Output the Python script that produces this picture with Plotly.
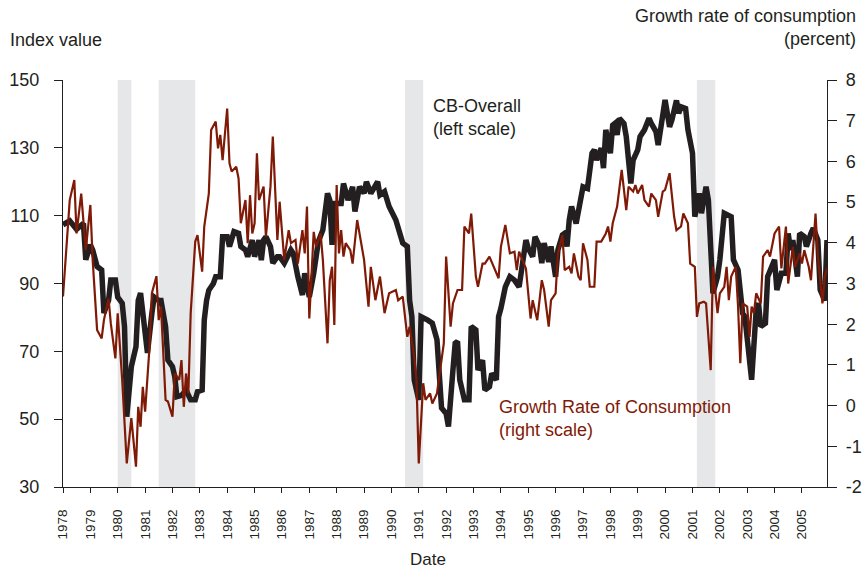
import plotly.graph_objects as go

# CB-Overall consumer confidence index (left scale)
cb_dates = [
    "1978-01", "1978-04", "1978-07", "1978-10", "1978-11", "1979-01", "1979-02", "1979-04",
    "1979-06", "1979-07", "1979-09", "1979-10", "1979-12", "1980-01", "1980-03", "1980-04",
    "1980-05", "1980-07", "1980-09", "1980-10", "1980-11", "1981-01", "1981-02", "1981-04",
    "1981-05", "1981-07", "1981-08", "1981-10", "1981-11", "1982-01", "1982-02", "1982-03",
    "1982-05", "1982-07", "1982-09", "1982-11", "1982-12", "1983-02", "1983-03", "1983-04",
    "1983-05", "1983-07", "1983-08", "1983-10", "1983-11", "1984-01", "1984-02", "1984-04",
    "1984-06", "1984-07", "1984-09", "1984-10", "1984-12", "1985-01", "1985-03", "1985-04",
    "1985-05", "1985-06", "1985-08", "1985-09", "1985-11", "1985-12", "1986-02", "1986-05",
    "1986-06", "1986-08", "1986-10", "1986-11", "1987-01", "1987-03", "1987-05", "1987-07",
    "1987-09", "1987-10", "1987-11", "1987-12", "1988-03", "1988-04", "1988-06", "1988-08",
    "1988-09", "1988-11", "1989-01", "1989-02", "1989-04", "1989-07", "1989-08", "1989-10",
    "1989-12", "1990-03", "1990-04", "1990-06", "1990-08", "1990-09", "1990-10", "1990-11",
    "1991-01", "1991-02", "1991-05", "1991-07", "1991-09", "1991-11", "1992-01", "1992-02",
    "1992-04", "1992-05", "1992-06", "1992-07", "1992-09", "1992-11", "1992-12", "1993-02",
    "1993-03", "1993-05", "1993-06", "1993-08", "1993-09", "1993-11", "1993-12", "1994-01",
    "1994-03", "1994-05", "1994-07", "1994-09", "1994-12", "1995-01", "1995-03", "1995-04",
    "1995-06", "1995-07", "1995-08", "1995-10", "1995-11", "1996-01", "1996-02", "1996-04",
    "1996-05", "1996-06", "1996-07", "1996-08", "1996-10", "1996-12", "1997-01", "1997-03",
    "1997-05", "1997-06", "1997-07", "1997-09", "1997-10", "1997-11", "1998-01", "1998-02",
    "1998-03", "1998-04", "1998-05", "1998-07", "1998-08", "1998-10", "1998-11", "1999-01",
    "1999-02", "1999-04", "1999-06", "1999-07", "1999-09", "1999-10", "1999-12", "2000-01",
    "2000-03", "2000-04", "2000-06", "2000-07", "2000-08", "2000-10", "2000-11", "2001-01",
    "2001-02", "2001-04", "2001-05", "2001-07", "2001-08", "2001-09", "2001-10", "2001-12",
    "2002-01", "2002-03", "2002-06", "2002-07", "2002-09", "2002-11", "2002-12", "2003-02",
    "2003-03", "2003-05", "2003-06", "2003-07", "2003-09", "2003-10", "2004-01", "2004-02",
    "2004-04", "2004-06", "2004-07", "2004-08", "2004-09", "2004-11", "2004-12", "2005-02",
    "2005-03", "2005-05", "2005-06", "2005-08", "2005-09", "2005-11", "2005-12",
]
cb_values = [
    107.3, 108.5, 106, 107.7, 97, 101.4, 99.9, 95,
    94, 81.3, 85, 91, 91, 86, 84.2, 77.3,
    50.7, 65.5, 71.4, 85, 87.2, 77.3, 69.5, 81.2,
    86, 85, 85, 77.3, 67.4, 65.5, 62.5, 56.6,
    57, 58.6, 55.7, 55.7, 58.1, 58.6, 79.2, 85,
    88, 90, 92, 92, 103.8, 103.8, 100.9, 105.3,
    104.8, 100.9, 99.9, 97.9, 102.8, 97.9, 102.8, 96.9,
    102.8, 103.8, 100.9, 96, 97.9, 97.9, 96, 99.9,
    98.9, 92, 86.6, 93, 86, 93, 102.3, 105.8,
    116.6, 114.6, 101.4, 113.6, 113.6, 119.5, 114.6, 118.5,
    111.2, 118.5, 116.6, 120, 116.6, 120, 116.1, 117.1,
    112.7, 108.7, 106.8, 101.9, 100.9, 85, 80.2, 61.6,
    55.7, 80.2, 79.2, 78.3, 73.4, 53.3, 51.7, 47.8,
    64.5, 72.4, 72.9, 61.6, 55.7, 55.7, 77.3, 76.3,
    64.5, 67.4, 58.6, 59.6, 63.5, 61.6, 80.2, 82.7,
    89, 92, 91, 89, 102.8, 100.4, 97.9, 103.8,
    100.9, 96, 101.9, 96.4, 100.9, 92, 99.9, 104.3,
    104.8, 100.9, 108.7, 112.7, 107.7, 114, 118.5, 118,
    128.4, 129.4, 126.4, 129.9, 124, 135.3, 128.4, 136.7,
    137.2, 133.8, 138.7, 137.2, 133.3, 119.5, 126.4, 129.4,
    133.3, 135.3, 138.7, 137.2, 134.8, 130.8, 138.7, 144.1,
    136.2, 138.2, 144, 140.2, 142.1, 141.6, 135.3, 128.4,
    109.7, 116.6, 110.7, 118.5, 114.6, 97, 87.1, 92,
    97, 110.7, 109.7, 97, 94, 81.2, 80.2, 67.4,
    61.6, 82.2, 84.2, 77.3, 78.3, 92, 97, 88.1,
    93, 93, 104.8, 99.9, 102.8, 92, 104.8, 103.8,
    100.9, 104.8, 106.3, 102.8, 88.1, 85, 102.8,
]

# Growth rate of consumption, percent (right scale)
gc_dates = [
    "1978-01", "1978-03", "1978-04", "1978-06", "1978-07", "1978-09", "1978-10", "1978-11",
    "1979-01", "1979-02", "1979-04", "1979-06", "1979-07", "1979-09", "1979-10", "1979-12",
    "1980-01", "1980-03", "1980-05", "1980-07", "1980-09", "1980-10", "1980-11", "1980-12",
    "1981-01", "1981-03", "1981-04", "1981-06", "1981-07", "1981-08", "1981-10", "1981-11",
    "1982-01", "1982-02", "1982-04", "1982-05", "1982-06", "1982-07", "1982-08", "1982-09",
    "1982-11", "1982-12", "1983-02", "1983-03", "1983-05", "1983-06", "1983-08", "1983-09",
    "1983-10", "1983-11", "1984-01", "1984-02", "1984-03", "1984-05", "1984-06", "1984-07",
    "1984-09", "1984-10", "1984-11", "1984-12", "1985-01", "1985-02", "1985-03", "1985-05",
    "1985-06", "1985-08", "1985-09", "1985-11", "1985-12", "1986-02", "1986-04", "1986-05",
    "1986-07", "1986-08", "1986-10", "1986-11", "1986-12", "1987-01", "1987-03", "1987-04",
    "1987-06", "1987-07", "1987-09", "1987-10", "1987-11", "1987-12", "1988-01", "1988-02",
    "1988-03", "1988-04", "1988-05", "1988-07", "1988-08", "1988-10", "1989-01", "1989-03",
    "1989-04", "1989-06", "1989-08", "1989-10", "1989-12", "1990-03", "1990-04", "1990-06",
    "1990-08", "1990-09", "1990-11", "1990-12", "1991-01", "1991-03", "1991-04", "1991-06",
    "1991-07", "1991-09", "1991-10", "1991-12", "1992-01", "1992-03", "1992-04", "1992-06",
    "1992-08", "1992-09", "1992-11", "1992-12", "1993-02", "1993-03", "1993-05", "1993-06",
    "1993-08", "1993-10", "1993-12", "1994-01", "1994-03", "1994-05", "1994-07", "1994-08",
    "1994-09", "1994-12", "1995-02", "1995-03", "1995-05", "1995-07", "1995-08", "1995-10",
    "1995-11", "1996-01", "1996-02", "1996-04", "1996-05", "1996-07", "1996-08", "1996-09",
    "1996-11", "1996-12", "1997-01", "1997-03", "1997-04", "1997-06", "1997-07", "1997-09",
    "1997-11", "1997-12", "1998-01", "1998-02", "1998-04", "1998-06", "1998-08", "1998-09",
    "1998-11", "1998-12", "1999-01", "1999-03", "1999-04", "1999-06", "1999-07", "1999-09",
    "1999-10", "1999-12", "2000-01", "2000-03", "2000-05", "2000-06", "2000-08", "2000-09",
    "2000-11", "2000-12", "2001-02", "2001-03", "2001-04", "2001-06", "2001-07", "2001-09",
    "2001-10", "2001-12", "2002-01", "2002-03", "2002-04", "2002-05", "2002-06", "2002-08",
    "2002-09", "2002-10", "2002-11", "2003-01", "2003-02", "2003-03", "2003-04", "2003-05",
    "2003-07", "2003-08", "2003-10", "2003-11", "2003-12", "2004-01", "2004-03", "2004-04",
    "2004-06", "2004-07", "2004-09", "2004-10", "2004-12", "2005-01", "2005-02", "2005-04",
    "2005-05", "2005-07", "2005-08", "2005-10", "2005-11", "2005-12",
]
gc_values = [
    2.68, 4.40, 5.05, 5.54, 4.23, 5.21, 4.40, 3.82,
    4.93, 3.58, 1.86, 1.65, 2.10, 2.63, 2.02, 1.16,
    2.27, 0.63, -1.42, -0.31, -1.50, -0.03, -0.52, 0.46,
    -0.15, 1.45, 2.76, 3.18, 2.10, 2.43, 0.14, 0.10,
    -0.27, 0.79, 0.63, 1.12, -0.03, 0.79, 0.30, 2.27,
    4.03, 4.19, 3.29, 4.40, 5.21, 6.77, 6.98, 6.32,
    6.65, 6.03, 7.30, 5.95, 5.75, 5.87, 5.58, 4.48,
    5.05, 3.99, 5.17, 4.23, 4.48, 6.20, 5.05, 5.38,
    4.15, 5.38, 6.61, 4.07, 5.01, 3.58, 4.31, 3.99,
    4.07, 3.49, 4.31, 3.74, 4.89, 2.14, 4.27, 3.90,
    4.23, 3.58, 1.53, 3.08, 3.41, 1.98, 5.42, 3.74,
    4.31, 3.66, 3.99, 3.82, 3.49, 4.56, 3.58, 2.43,
    3.41, 2.59, 3.17, 2.27, 2.76, 2.84, 2.59, 2.68,
    1.69, 1.94, 1.20, 0.63, -1.42, 0.55, 0.14, 0.30,
    0.05, 0.30, 0.71, 1.53, 3.66, 1.94, 2.51, 2.84,
    2.84, 4.40, 4.23, 4.72, 3.17, 2.92, 3.49, 3.49,
    3.66, 3.41, 3.13, 3.90, 4.44, 3.74, 3.78, 3.33,
    3.78, 3.37, 2.14, 2.59, 2.10, 3.08, 2.84, 1.94,
    2.59, 2.76, 3.74, 4.19, 3.33, 3.41, 3.25, 3.74,
    3.17, 3.08, 3.99, 3.58, 2.92, 2.92, 4.03, 4.03,
    4.23, 4.40, 4.03, 4.48, 4.89, 5.79, 4.80, 5.38,
    5.26, 5.42, 5.21, 5.42, 5.05, 4.89, 5.21, 5.05,
    4.64, 5.26, 5.30, 5.71, 4.64, 4.31, 4.40, 4.72,
    4.48, 3.49, 3.41, 2.18, 2.51, 2.55, 2.51, 0.87,
    3.41, 2.27, 2.76, 2.92, 3.41, 2.59, 3.17, 3.41,
    2.43, 1.04, 2.51, 2.43, 1.69, 2.43, 2.27, 2.76,
    2.51, 3.66, 3.82, 3.66, 3.99, 4.23, 4.40, 3.37,
    4.40, 3.00, 3.90, 3.41, 3.74, 3.49, 3.82, 3.41,
    3.08, 4.72, 3.66, 2.51, 3.17, 3.37,
]

# recession periods (shaded)
rec_start = ["1980-01-01", "1981-07-01", "1990-07-01", "2001-03-01"]
rec_end = ["1980-07-01", "1982-11-01", "1991-03-01", "2001-11-01"]

years = list(range(1978, 2006))
left_ticks = [30, 50, 70, 90, 110, 130, 150]
right_ticks = list(range(-2, 9))

INK = "#231f20"
RED = "#7f1a06"
FONT = "Liberation Sans, Arial, Helvetica, sans-serif"

fig = go.Figure()
fig.add_trace(go.Scatter(x=cb_dates, y=cb_values, mode="lines",
                         line=dict(color=INK, width=5.5), yaxis="y", showlegend=False))
fig.add_trace(go.Scatter(x=gc_dates, y=gc_values, mode="lines",
                         line=dict(color=RED, width=2.2), yaxis="y2", showlegend=False))

for s, e in zip(rec_start, rec_end):
    fig.add_shape(type="rect", xref="x", yref="paper", x0=s, x1=e, y0=0, y1=1,
                  fillcolor="#e6e7e9", line_width=0, layer="below")

fig.add_annotation(x="1991-06-15", y=146, xref="x", yref="y", text="CB-Overall<br>(left scale)",
                   showarrow=False, xanchor="left", yanchor="top", align="left",
                   font=dict(size=18, color=INK))
fig.add_annotation(x="1993-11-10", y=0.25, xref="x", yref="y2",
                   text="Growth Rate of Consumption<br>(right scale)",
                   showarrow=False, xanchor="left", yanchor="top", align="left",
                   font=dict(size=18, color=RED))

fig.add_annotation(x=-0.072, y=1.098, xref="paper", yref="paper", text="Index value",
                   showarrow=False, xanchor="left", yanchor="middle", font=dict(size=18, color=INK))
fig.add_annotation(x=1.0406, y=1.13, xref="paper", yref="paper",
                   text="Growth rate of consumption<br>(percent)", showarrow=False,
                   xanchor="right", yanchor="middle", align="right", font=dict(size=18, color=INK))
fig.add_annotation(x=0.478, y=-0.179, xref="paper", yref="paper", text="Date",
                   showarrow=False, xanchor="center", yanchor="middle", font=dict(size=17, color=INK))

fig.update_layout(
    width=862, height=570,
    margin=dict(l=63, r=35, t=80, b=83, autoexpand=False),
    paper_bgcolor="white", plot_bgcolor="white",
    font=dict(family=FONT, color=INK),
    xaxis=dict(
        type="date", range=["1978-01-01", "2005-12-01"], automargin=False,
        tickvals=[f"{y}-01-01" for y in years], ticktext=[str(y) for y in years],
        tickangle=-90, tickfont=dict(size=13.5, color=INK),
        ticks="outside", ticklen=5, tickcolor=INK, ticklabelstandoff=11,
        showline=True, linecolor=INK, linewidth=1.3, showgrid=False, zeroline=False,
    ),
    yaxis=dict(
        range=[30, 150], tickvals=left_ticks, automargin=False,
        tickfont=dict(size=18, color=INK), ticks="outside", ticklen=8, tickcolor=INK,
        ticklabelstandoff=11,
        showline=True, linecolor=INK, linewidth=1.3, showgrid=False, zeroline=False,
    ),
    yaxis2=dict(
        range=[-2, 8], tickvals=right_ticks, ticktext=[str(v) for v in right_ticks],
        overlaying="y", side="right", automargin=False,
        tickfont=dict(size=18, color=INK), ticks="outside", ticklen=9, tickcolor=INK,
        ticklabelstandoff=5,
        showline=True, linecolor=INK, linewidth=1.3, showgrid=False, zeroline=False,
    ),
)

# the page body has a default 8px margin; drop it so the figure fills the window
fig.write_html("out.html", config={"displayModeBar": False},
               post_script="document.body.style.margin = '0';")
